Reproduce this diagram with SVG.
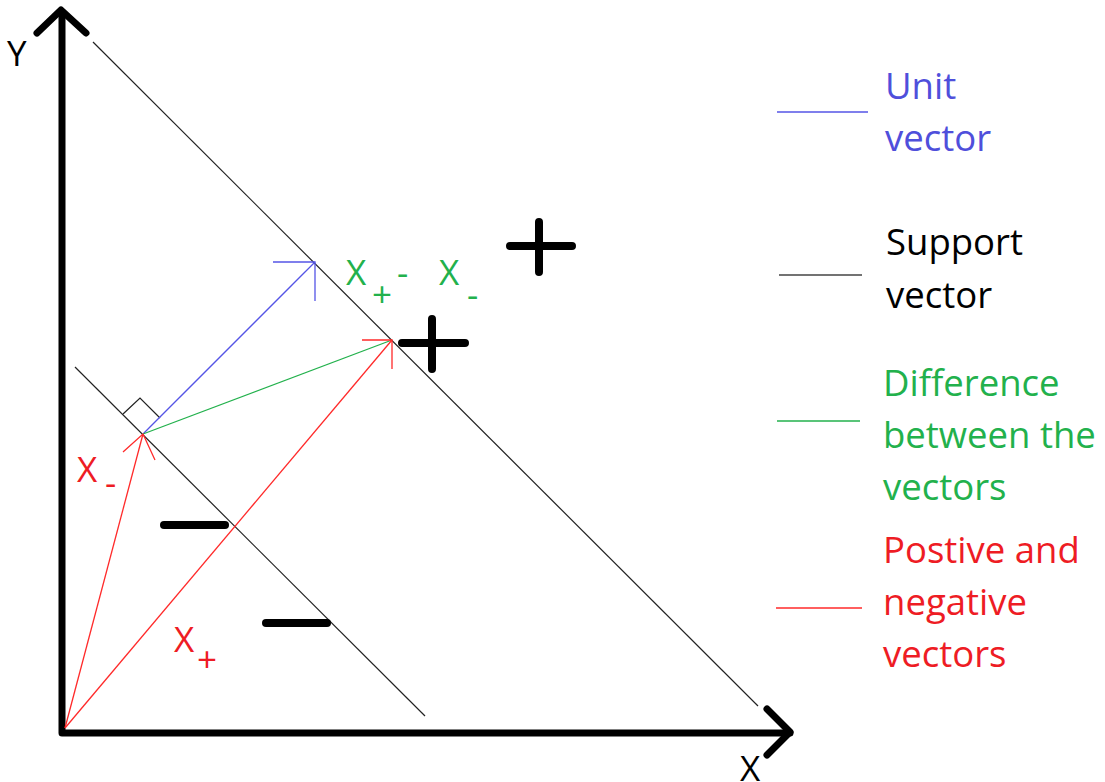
<svg xmlns="http://www.w3.org/2000/svg" width="1105" height="782" viewBox="0 0 1105 782">
<style>
.axis{stroke:#000;stroke-width:7;fill:none;stroke-linecap:round;stroke-linejoin:round}
.sup{stroke:#222;stroke-width:1.2;fill:none}
.blue{stroke:#5555e6;stroke-width:1.3;fill:none}
.green{stroke:#22b14c;stroke-width:1.3;fill:none}
.red{stroke:#ff2a2a;stroke-width:1.3;fill:none}
.sign{stroke:#000;stroke-width:8;stroke-linecap:round;fill:none}
text{font-family:"Open Sans","Noto Sans","Liberation Sans",sans-serif;font-size:35px}
.lg{font-size:36.5px}
.tb{fill:#4f4fdb}.tk{fill:#000}.tg{fill:#22b14c}.tr{fill:#ee1c24}
</style>
<rect width="1105" height="782" fill="#fff"/>
<g id="axes">
<path class="axis" d="M62,12 L62,733 L790,733"/>
<path class="axis" d="M37,33 L61,10 L86,33"/>
<path class="axis" d="M767,709 L790,732 L767,755"/>
<text class="tk" x="7" y="66">Y</text>
<text class="tk" x="740" y="781">X</text>
</g>
<g id="connectors">
<line class="sup" x1="93" y1="42" x2="758" y2="706"/>
<line class="sup" x1="75" y1="367" x2="425" y2="716"/>
<path class="sup" d="M123,414 L140,398 L160,418"/>
<line class="blue" x1="143" y1="434" x2="315" y2="262"/>
<path class="blue" d="M273,262 L315,262 L315,301"/>
<line class="green" x1="143" y1="434" x2="392" y2="340"/>
<line class="red" x1="65" y1="728" x2="143" y2="434"/>
<path class="red" d="M123,452 L143,434 L155,460"/>
<line class="red" x1="65" y1="728" x2="392" y2="340"/>
<path class="red" d="M362,340 L392,340 L392,369"/>
</g>
<g id="signs">
<path class="sign" d="M510,246 L572,246 M539,222 L539,272"/>
<path class="sign" d="M402,343 L465,343 M432,319 L432,369"/>
<path class="sign" d="M164,525 L225,525"/>
<path class="sign" d="M266,623 L327,623"/>
</g>
<g id="labels">
<text class="tg" x="346" y="285">X</text>
<text class="tg" x="372" y="307">+</text>
<text class="tg" x="397" y="285">-</text>
<text class="tg" x="439" y="285">X</text>
<text class="tg" x="467" y="307">-</text>
<text class="tr" x="77" y="482">X</text>
<text class="tr" x="105" y="495">-</text>
<text class="tr" x="174" y="652">X</text>
<text class="tr" x="197" y="672">+</text>
</g>
<g id="legend-unit">
<line class="blue" x1="777" y1="112" x2="868" y2="112"/>
<text class="tb lg" x="885" y="99">Unit</text>
<text class="tb lg" x="885" y="151">vector</text>
</g>
<g id="legend-support">
<line x1="779" y1="275" x2="862" y2="275" stroke="#444" stroke-width="1.5"/>
<text class="tk lg" x="886" y="255">Support</text>
<text class="tk lg" x="886" y="308">vector</text>
</g>
<g id="legend-difference">
<line class="green" x1="777" y1="421" x2="860" y2="421"/>
<text class="tg lg" x="883" y="396">Difference</text>
<text class="tg lg" x="883" y="448">between the</text>
<text class="tg lg" x="883" y="500">vectors</text>
</g>
<g id="legend-posneg">
<line class="red" x1="776" y1="608" x2="862" y2="608"/>
<text class="tr lg" x="883" y="563">Postive and</text>
<text class="tr lg" x="883" y="615">negative</text>
<text class="tr lg" x="883" y="667">vectors</text>
</g>
</svg>
